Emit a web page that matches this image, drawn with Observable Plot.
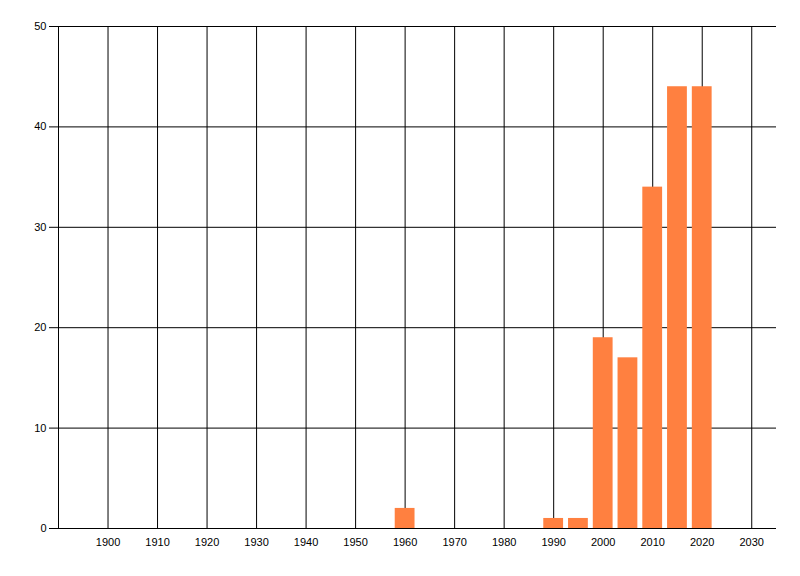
<!DOCTYPE html>
<html>
<head>
<meta charset="utf-8">
<script src="https://cdn.jsdelivr.net/npm/d3@7"></script>
<script src="https://cdn.jsdelivr.net/npm/@observablehq/plot@0.6"></script>
<style>
  html, body { margin: 0; padding: 0; background: #fff; }
  svg { display: block; }
</style>
</head>
<body>
<div id="chart"></div>
<script>
const years = [1960, 1990, 1995, 2000, 2005, 2010, 2015, 2020];
const counts = [2, 1, 1, 19, 17, 34, 44, 44];
const xTicks = [1900, 1910, 1920, 1930, 1940, 1950, 1960, 1970, 1980, 1990, 2000, 2010, 2020, 2030];
const yTicks = [0, 10, 20, 30, 40, 50];

const data = years.map((y, i) => ({year: y, count: counts[i]}));
const halfWidth = 2;

const chart = Plot.plot({
  width: 800,
  height: 576,
  marginLeft: 58,
  marginRight: 24,
  marginTop: 26,
  marginBottom: 48,
  style: {fontFamily: "'Liberation Sans', Arial, sans-serif", fontSize: "11px", color: "#000", background: "#fff"},
  x: {domain: [1890, 2035], ticks: xTicks, tickFormat: d => String(d)},
  y: {domain: [0, 50], ticks: yTicks},
  marks: [
    Plot.ruleX([1890, ...xTicks], {stroke: "#000", strokeWidth: 1, strokeOpacity: 1}),
    Plot.ruleY(yTicks, {stroke: "#000", strokeWidth: 1, strokeOpacity: 1}),
    Plot.rectY(data, {x1: d => d.year - halfWidth, x2: d => d.year + halfWidth, y1: 0, y2: "count", fill: "#ff8040", inset: 0}),
    Plot.ruleY([0], {stroke: "#000", strokeWidth: 1}),
    Plot.axisX({ticks: xTicks, tickSize: 0, tickPadding: 10, tickFormat: d => String(d), label: null, fill: "#000"}),
    Plot.axisY({ticks: yTicks, tickSize: 9, tickPadding: 3, label: null, fill: "#000", stroke: "#000", strokeOpacity: 1})
  ]
});
document.getElementById("chart").appendChild(chart);
</script>
</body>
</html>
